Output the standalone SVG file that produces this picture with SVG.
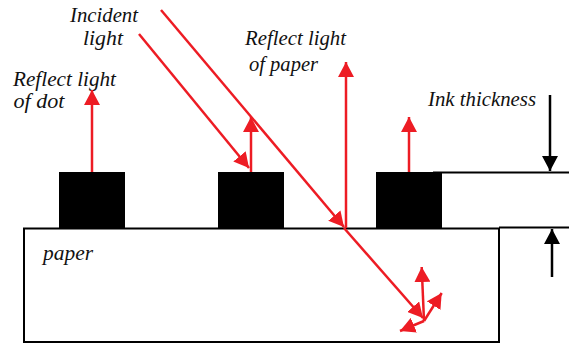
<svg xmlns="http://www.w3.org/2000/svg" width="569" height="344" viewBox="0 0 569 344">
<defs>
<style>
text{font-family:'Liberation Serif','DejaVu Serif',serif;font-style:italic;font-size:20px;fill:#111}
.ink{fill:#000}
.edge{fill:none;stroke:#000;stroke-width:2}
.red{fill:none;stroke:#ED1C24;stroke-width:2.5}
.blk{fill:none;stroke:#000;stroke-width:2.5}
</style>
<marker id="ra" markerUnits="userSpaceOnUse" markerWidth="16" markerHeight="16" refX="15" refY="8" orient="auto" viewBox="0 0 16 16">
<path d="M0,0 L15,8 L0,16 z" fill="#ED1C24"/>
</marker>
<marker id="ba" markerUnits="userSpaceOnUse" markerWidth="16" markerHeight="16" refX="15" refY="8" orient="auto" viewBox="0 0 16 16">
<path d="M0,0 L15,8 L0,16 z" fill="#000"/>
</marker>
</defs>
<rect width="569" height="344" fill="#fff"/>
<g id="paper">
<rect class="edge" x="24" y="228.5" width="475" height="113.5" fill="#fff"/>
<line class="edge" x1="499" y1="227.5" x2="569" y2="227.5"/>
<text x="43" y="260" textLength="50" lengthAdjust="spacingAndGlyphs" font-family="Liberation Serif, serif">paper</text>
</g>
<g id="ink-top">
<line class="edge" x1="433" y1="172.5" x2="569" y2="172.5"/>
</g>
<g id="dot1"><rect class="ink" x="59" y="172" width="66" height="56"/></g>
<g id="dot2"><rect class="ink" x="218" y="172" width="66" height="56"/></g>
<g id="dot3"><rect class="ink" x="376" y="172" width="66" height="56"/></g>
<g id="labels" font-family="Liberation Serif, serif">
<text x="70" y="22" textLength="68" lengthAdjust="spacingAndGlyphs">Incident</text>
<text x="83" y="45" textLength="40" lengthAdjust="spacingAndGlyphs">light</text>
<text x="13" y="86" textLength="103" lengthAdjust="spacingAndGlyphs">Reflect light</text>
<text x="13.5" y="108" textLength="51" lengthAdjust="spacingAndGlyphs">of dot</text>
<text x="245" y="45" textLength="101" lengthAdjust="spacingAndGlyphs">Reflect light</text>
<text x="249" y="71" textLength="69" lengthAdjust="spacingAndGlyphs">of paper</text>
<text x="428" y="106" textLength="108" lengthAdjust="spacingAndGlyphs">Ink thickness</text>
</g>
<g id="connectors">
<line class="red" x1="92" y1="172" x2="92" y2="90" marker-end="url(#ra)"/>
<line class="red" x1="251" y1="172" x2="251" y2="117" marker-end="url(#ra)"/>
<line class="red" x1="409" y1="172" x2="409" y2="117" marker-end="url(#ra)"/>
<line class="red" x1="346" y1="228" x2="346" y2="62" marker-end="url(#ra)"/>
<line class="red" x1="139" y1="34" x2="249" y2="168" marker-end="url(#ra)"/>
<line class="red" x1="161" y1="10" x2="344" y2="227" marker-end="url(#ra)"/>
<line class="red" x1="344" y1="228" x2="423" y2="318" marker-end="url(#ra)"/>
<line class="red" x1="424" y1="321" x2="421.7" y2="267" marker-end="url(#ra)"/>
<line class="red" x1="424" y1="321" x2="441.7" y2="293" marker-end="url(#ra)"/>
<line class="red" x1="424" y1="321" x2="400" y2="331" marker-end="url(#ra)"/>
<line class="blk" x1="550" y1="95" x2="550" y2="171" marker-end="url(#ba)"/>
<line class="blk" x1="552" y1="277" x2="552" y2="229" marker-end="url(#ba)"/>
</g>
</svg>
